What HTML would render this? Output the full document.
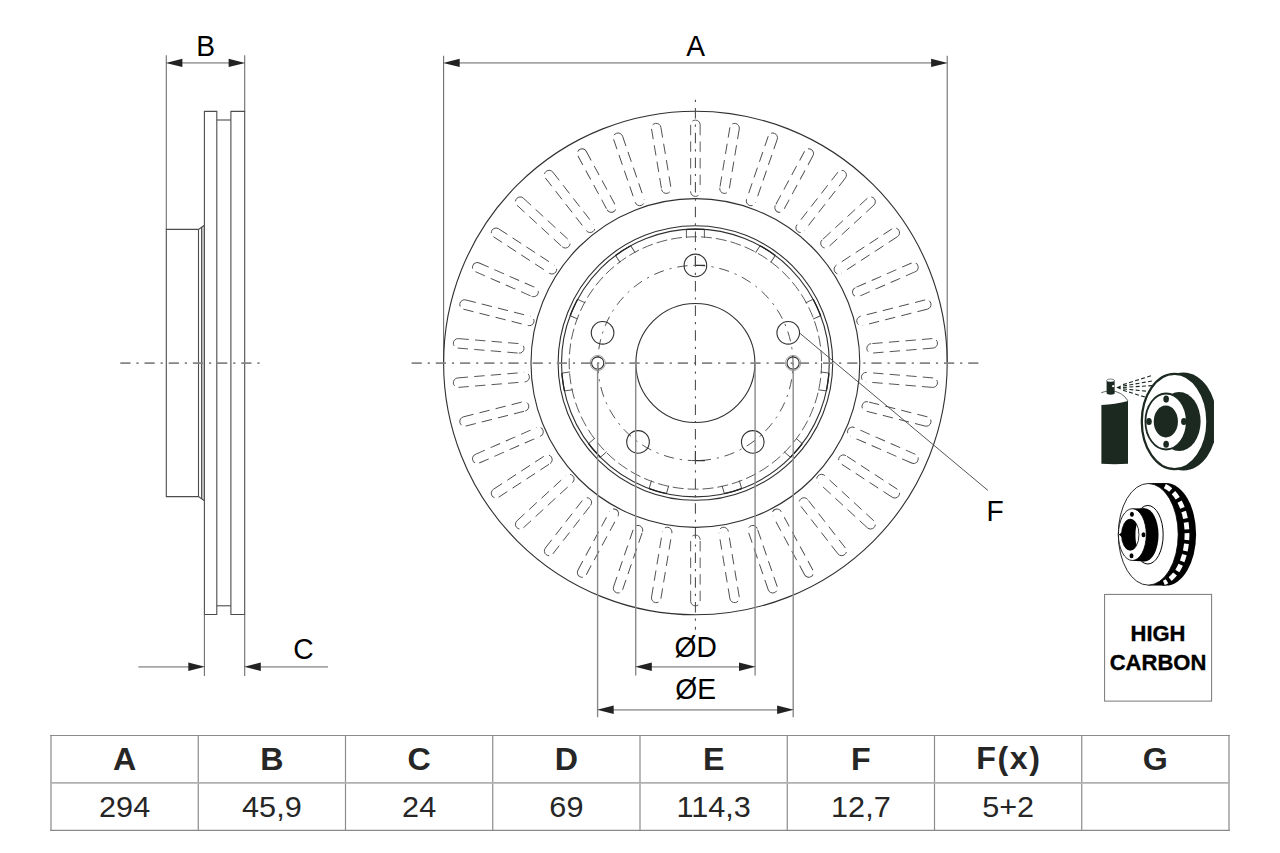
<!DOCTYPE html>
<html><head><meta charset="utf-8"><title>Brake disc</title>
<style>
html,body{margin:0;padding:0;background:#fff;}
body{width:1280px;height:853px;overflow:hidden;position:relative;font-family:"Liberation Sans",sans-serif;}
svg{position:absolute;left:0;top:0;}
svg text{font-family:"Liberation Sans",sans-serif;}
table{position:absolute;left:50px;top:735px;width:1179px;height:96px;border-collapse:collapse;table-layout:fixed;}
td{border:1px solid #7a7a7a;text-align:center;padding:0;font-size:30px;color:#2a2a2a;height:46.5px;line-height:46px;}
tr.h td{font-weight:bold;}
.hc{position:absolute;left:1104px;top:594px;width:106px;height:106px;border:1px solid #777;}
.hc div{position:absolute;left:0;width:106px;text-align:center;font-weight:bold;font-size:22px;color:#111;line-height:28px;}
</style></head><body>
<svg width="1280" height="853" viewBox="0 0 1280 853">
<line x1="166.30" y1="55.30" x2="166.30" y2="229.40" stroke="#6e6e6e" stroke-width="1.1" />
<line x1="244.70" y1="55.30" x2="244.70" y2="111.40" stroke="#6e6e6e" stroke-width="1.1" />
<line x1="176.30" y1="62.90" x2="234.70" y2="62.90" stroke="#a6a6a6" stroke-width="1.7" />
<polygon points="165.80,62.90 182.40,58.70 182.40,67.10" fill="#222"/>
<polygon points="245.20,62.90 228.60,58.70 228.60,67.10" fill="#222"/>
<text transform="translate(205.60,55.90) scale(0.94,1)" font-size="30" text-anchor="middle" font-weight="normal" fill="#000" >B</text>
<rect x="201.6" y="226.40" width="2.8" height="273.20" fill="#cfcfcf"/>
<path d="M204.4,225.3 L198.5,229.4 L166.3,229.4 L166.3,496.6 L198.5,496.6 L204.4,500.70000000000005" fill="none" stroke="#4c4c4c" stroke-width="1.1"/>
<line x1="198.50" y1="229.40" x2="198.50" y2="496.60" stroke="#4c4c4c" stroke-width="1.1" />
<line x1="201.60" y1="226.90" x2="201.60" y2="499.10" stroke="#4c4c4c" stroke-width="1.1" />
<path d="M204.4,614.5 L204.4,111.4 L216.8,111.4 L216.8,614.5 Z" fill="none" stroke="#4c4c4c" stroke-width="1.1"/>
<path d="M230.9,614.5 L230.9,111.4 L244.7,111.4 L244.7,614.5 Z" fill="none" stroke="#4c4c4c" stroke-width="1.1"/>
<line x1="216.80" y1="120.00" x2="230.90" y2="120.00" stroke="#4c4c4c" stroke-width="1.1" />
<line x1="216.80" y1="605.80" x2="230.90" y2="605.80" stroke="#4c4c4c" stroke-width="1.1" />
<line x1="204.40" y1="614.50" x2="204.40" y2="676.00" stroke="#6e6e6e" stroke-width="1.1" />
<line x1="244.70" y1="614.50" x2="244.70" y2="676.00" stroke="#6e6e6e" stroke-width="1.1" />
<line x1="138.40" y1="666.80" x2="194.40" y2="666.80" stroke="#a6a6a6" stroke-width="1.7" />
<line x1="254.70" y1="666.80" x2="328.00" y2="666.80" stroke="#a6a6a6" stroke-width="1.7" />
<polygon points="204.90,666.80 188.30,662.60 188.30,671.00" fill="#222"/>
<polygon points="244.20,666.80 260.80,662.60 260.80,671.00" fill="#222"/>
<text transform="translate(303.40,659.00) scale(0.94,1)" font-size="30" text-anchor="middle" font-weight="normal" fill="#000" >C</text>
<line x1="120.30" y1="363.10" x2="260.00" y2="363.10" stroke="#858585" stroke-width="1.6" stroke-dasharray="10.2 5.9 2.2 5.9"/>
<line x1="443.60" y1="55.80" x2="443.60" y2="363.00" stroke="#6e6e6e" stroke-width="1.1" />
<line x1="947.20" y1="55.80" x2="947.20" y2="363.00" stroke="#6e6e6e" stroke-width="1.1" />
<line x1="453.60" y1="62.90" x2="937.20" y2="62.90" stroke="#a6a6a6" stroke-width="1.7" />
<polygon points="443.10,62.90 459.70,58.70 459.70,67.10" fill="#222"/>
<polygon points="947.70,62.90 931.10,58.70 931.10,67.10" fill="#222"/>
<text transform="translate(695.60,55.70) scale(0.94,1)" font-size="30" text-anchor="middle" font-weight="normal" fill="#000" >A</text>
<circle cx="695.40" cy="363.00" r="251.80" fill="none" stroke="#303030" stroke-width="1.1" />
<circle cx="695.40" cy="363.00" r="164.40" fill="none" stroke="#303030" stroke-width="1.1" />
<circle cx="695.40" cy="363.00" r="137.30" fill="none" stroke="#303030" stroke-width="1.1" />
<circle cx="695.40" cy="363.00" r="133.90" fill="none" stroke="#303030" stroke-width="1.1" />
<circle cx="695.40" cy="363.00" r="126.20" fill="none" stroke="#4a4a4a" stroke-width="0.9" stroke-dasharray="11 4"/>
<path d="M695.4,265.4 A97.6,97.6 0 0 1 695.4,460.6" fill="none" stroke="#4a4a4a" stroke-width="0.95" stroke-dasharray="10.2 5.9 2.2 5.9"/>
<path d="M695.4,265.4 A97.6,97.6 0 0 0 695.4,460.6" fill="none" stroke="#4a4a4a" stroke-width="0.95" stroke-dasharray="10.2 5.9 2.2 5.9" stroke-dashoffset="-8"/>
<path d="M695.4,255.89999999999998 L695.4,265.4 L704.9,265.4" fill="none" stroke="#333" stroke-width="1.1"/>
<path d="M695.4,451.1 L695.4,460.6 L704.9,460.6" fill="none" stroke="#333" stroke-width="1.1"/>
<circle cx="695.40" cy="363.00" r="59.50" fill="none" stroke="#303030" stroke-width="1.1" />
<circle cx="695.40" cy="265.40" r="11.30" fill="none" stroke="#303030" stroke-width="1.1" />
<circle cx="788.22" cy="332.84" r="11.30" fill="none" stroke="#303030" stroke-width="1.1" />
<circle cx="752.77" cy="441.96" r="11.30" fill="none" stroke="#303030" stroke-width="1.1" />
<circle cx="638.03" cy="441.96" r="11.30" fill="none" stroke="#303030" stroke-width="1.1" />
<circle cx="602.58" cy="332.84" r="11.30" fill="none" stroke="#303030" stroke-width="1.1" />
<circle cx="597.70" cy="363.00" r="6.10" fill="none" stroke="#303030" stroke-width="1.1" />
<circle cx="597.70" cy="363.00" r="7.60" fill="none" stroke="#888" stroke-width="0.8" />
<circle cx="793.10" cy="363.00" r="6.10" fill="none" stroke="#303030" stroke-width="1.1" />
<circle cx="793.10" cy="363.00" r="7.60" fill="none" stroke="#888" stroke-width="0.8" />
<path d="M700.15,124.85 A4.75,4.75 0 0 0 690.65,124.85 M690.65,191.65 A4.75,4.75 0 0 0 700.15,191.65 M690.65,124.85 L690.65,191.65 M700.15,124.85 L700.15,191.65" transform="rotate(0.0000 695.4 363.0)" fill="none" stroke="#4a4a4a" stroke-width="0.9" stroke-dasharray="10.4 6.2"/>
<path d="M700.15,124.85 A4.75,4.75 0 0 0 690.65,124.85 M690.65,186.25 A4.75,4.75 0 0 0 700.15,186.25 M690.65,124.85 L690.65,186.25 M700.15,124.85 L700.15,186.25" transform="rotate(9.4737 695.4 363.0)" fill="none" stroke="#4a4a4a" stroke-width="0.9" stroke-dasharray="10.4 6.2"/>
<path d="M700.15,124.85 A4.75,4.75 0 0 0 690.65,124.85 M690.65,191.65 A4.75,4.75 0 0 0 700.15,191.65 M690.65,124.85 L690.65,191.65 M700.15,124.85 L700.15,191.65" transform="rotate(18.9474 695.4 363.0)" fill="none" stroke="#4a4a4a" stroke-width="0.9" stroke-dasharray="10.4 6.2"/>
<path d="M700.15,124.85 A4.75,4.75 0 0 0 690.65,124.85 M690.65,186.25 A4.75,4.75 0 0 0 700.15,186.25 M690.65,124.85 L690.65,186.25 M700.15,124.85 L700.15,186.25" transform="rotate(28.4211 695.4 363.0)" fill="none" stroke="#4a4a4a" stroke-width="0.9" stroke-dasharray="10.4 6.2"/>
<path d="M700.15,124.85 A4.75,4.75 0 0 0 690.65,124.85 M690.65,191.65 A4.75,4.75 0 0 0 700.15,191.65 M690.65,124.85 L690.65,191.65 M700.15,124.85 L700.15,191.65" transform="rotate(37.8947 695.4 363.0)" fill="none" stroke="#4a4a4a" stroke-width="0.9" stroke-dasharray="10.4 6.2"/>
<path d="M700.15,124.85 A4.75,4.75 0 0 0 690.65,124.85 M690.65,186.25 A4.75,4.75 0 0 0 700.15,186.25 M690.65,124.85 L690.65,186.25 M700.15,124.85 L700.15,186.25" transform="rotate(47.3684 695.4 363.0)" fill="none" stroke="#4a4a4a" stroke-width="0.9" stroke-dasharray="10.4 6.2"/>
<path d="M700.15,124.85 A4.75,4.75 0 0 0 690.65,124.85 M690.65,191.65 A4.75,4.75 0 0 0 700.15,191.65 M690.65,124.85 L690.65,191.65 M700.15,124.85 L700.15,191.65" transform="rotate(56.8421 695.4 363.0)" fill="none" stroke="#4a4a4a" stroke-width="0.9" stroke-dasharray="10.4 6.2"/>
<path d="M700.15,124.85 A4.75,4.75 0 0 0 690.65,124.85 M690.65,186.25 A4.75,4.75 0 0 0 700.15,186.25 M690.65,124.85 L690.65,186.25 M700.15,124.85 L700.15,186.25" transform="rotate(66.3158 695.4 363.0)" fill="none" stroke="#4a4a4a" stroke-width="0.9" stroke-dasharray="10.4 6.2"/>
<path d="M700.15,124.85 A4.75,4.75 0 0 0 690.65,124.85 M690.65,191.65 A4.75,4.75 0 0 0 700.15,191.65 M690.65,124.85 L690.65,191.65 M700.15,124.85 L700.15,191.65" transform="rotate(75.7895 695.4 363.0)" fill="none" stroke="#4a4a4a" stroke-width="0.9" stroke-dasharray="10.4 6.2"/>
<path d="M700.15,124.85 A4.75,4.75 0 0 0 690.65,124.85 M690.65,186.25 A4.75,4.75 0 0 0 700.15,186.25 M690.65,124.85 L690.65,186.25 M700.15,124.85 L700.15,186.25" transform="rotate(85.2632 695.4 363.0)" fill="none" stroke="#4a4a4a" stroke-width="0.9" stroke-dasharray="10.4 6.2"/>
<path d="M700.15,124.85 A4.75,4.75 0 0 0 690.65,124.85 M690.65,191.65 A4.75,4.75 0 0 0 700.15,191.65 M690.65,124.85 L690.65,191.65 M700.15,124.85 L700.15,191.65" transform="rotate(94.7368 695.4 363.0)" fill="none" stroke="#4a4a4a" stroke-width="0.9" stroke-dasharray="10.4 6.2"/>
<path d="M700.15,124.85 A4.75,4.75 0 0 0 690.65,124.85 M690.65,186.25 A4.75,4.75 0 0 0 700.15,186.25 M690.65,124.85 L690.65,186.25 M700.15,124.85 L700.15,186.25" transform="rotate(104.2105 695.4 363.0)" fill="none" stroke="#4a4a4a" stroke-width="0.9" stroke-dasharray="10.4 6.2"/>
<path d="M700.15,124.85 A4.75,4.75 0 0 0 690.65,124.85 M690.65,191.65 A4.75,4.75 0 0 0 700.15,191.65 M690.65,124.85 L690.65,191.65 M700.15,124.85 L700.15,191.65" transform="rotate(113.6842 695.4 363.0)" fill="none" stroke="#4a4a4a" stroke-width="0.9" stroke-dasharray="10.4 6.2"/>
<path d="M700.15,124.85 A4.75,4.75 0 0 0 690.65,124.85 M690.65,186.25 A4.75,4.75 0 0 0 700.15,186.25 M690.65,124.85 L690.65,186.25 M700.15,124.85 L700.15,186.25" transform="rotate(123.1579 695.4 363.0)" fill="none" stroke="#4a4a4a" stroke-width="0.9" stroke-dasharray="10.4 6.2"/>
<path d="M700.15,124.85 A4.75,4.75 0 0 0 690.65,124.85 M690.65,191.65 A4.75,4.75 0 0 0 700.15,191.65 M690.65,124.85 L690.65,191.65 M700.15,124.85 L700.15,191.65" transform="rotate(132.6316 695.4 363.0)" fill="none" stroke="#4a4a4a" stroke-width="0.9" stroke-dasharray="10.4 6.2"/>
<path d="M700.15,124.85 A4.75,4.75 0 0 0 690.65,124.85 M690.65,186.25 A4.75,4.75 0 0 0 700.15,186.25 M690.65,124.85 L690.65,186.25 M700.15,124.85 L700.15,186.25" transform="rotate(142.1053 695.4 363.0)" fill="none" stroke="#4a4a4a" stroke-width="0.9" stroke-dasharray="10.4 6.2"/>
<path d="M700.15,124.85 A4.75,4.75 0 0 0 690.65,124.85 M690.65,191.65 A4.75,4.75 0 0 0 700.15,191.65 M690.65,124.85 L690.65,191.65 M700.15,124.85 L700.15,191.65" transform="rotate(151.5789 695.4 363.0)" fill="none" stroke="#4a4a4a" stroke-width="0.9" stroke-dasharray="10.4 6.2"/>
<path d="M700.15,124.85 A4.75,4.75 0 0 0 690.65,124.85 M690.65,186.25 A4.75,4.75 0 0 0 700.15,186.25 M690.65,124.85 L690.65,186.25 M700.15,124.85 L700.15,186.25" transform="rotate(161.0526 695.4 363.0)" fill="none" stroke="#4a4a4a" stroke-width="0.9" stroke-dasharray="10.4 6.2"/>
<path d="M700.15,124.85 A4.75,4.75 0 0 0 690.65,124.85 M690.65,191.65 A4.75,4.75 0 0 0 700.15,191.65 M690.65,124.85 L690.65,191.65 M700.15,124.85 L700.15,191.65" transform="rotate(170.5263 695.4 363.0)" fill="none" stroke="#4a4a4a" stroke-width="0.9" stroke-dasharray="10.4 6.2"/>
<path d="M700.15,124.85 A4.75,4.75 0 0 0 690.65,124.85 M690.65,186.25 A4.75,4.75 0 0 0 700.15,186.25 M690.65,124.85 L690.65,186.25 M700.15,124.85 L700.15,186.25" transform="rotate(180.0000 695.4 363.0)" fill="none" stroke="#4a4a4a" stroke-width="0.9" stroke-dasharray="10.4 6.2"/>
<path d="M700.15,124.85 A4.75,4.75 0 0 0 690.65,124.85 M690.65,191.65 A4.75,4.75 0 0 0 700.15,191.65 M690.65,124.85 L690.65,191.65 M700.15,124.85 L700.15,191.65" transform="rotate(189.4737 695.4 363.0)" fill="none" stroke="#4a4a4a" stroke-width="0.9" stroke-dasharray="10.4 6.2"/>
<path d="M700.15,124.85 A4.75,4.75 0 0 0 690.65,124.85 M690.65,186.25 A4.75,4.75 0 0 0 700.15,186.25 M690.65,124.85 L690.65,186.25 M700.15,124.85 L700.15,186.25" transform="rotate(198.9474 695.4 363.0)" fill="none" stroke="#4a4a4a" stroke-width="0.9" stroke-dasharray="10.4 6.2"/>
<path d="M700.15,124.85 A4.75,4.75 0 0 0 690.65,124.85 M690.65,191.65 A4.75,4.75 0 0 0 700.15,191.65 M690.65,124.85 L690.65,191.65 M700.15,124.85 L700.15,191.65" transform="rotate(208.4211 695.4 363.0)" fill="none" stroke="#4a4a4a" stroke-width="0.9" stroke-dasharray="10.4 6.2"/>
<path d="M700.15,124.85 A4.75,4.75 0 0 0 690.65,124.85 M690.65,186.25 A4.75,4.75 0 0 0 700.15,186.25 M690.65,124.85 L690.65,186.25 M700.15,124.85 L700.15,186.25" transform="rotate(217.8947 695.4 363.0)" fill="none" stroke="#4a4a4a" stroke-width="0.9" stroke-dasharray="10.4 6.2"/>
<path d="M700.15,124.85 A4.75,4.75 0 0 0 690.65,124.85 M690.65,191.65 A4.75,4.75 0 0 0 700.15,191.65 M690.65,124.85 L690.65,191.65 M700.15,124.85 L700.15,191.65" transform="rotate(227.3684 695.4 363.0)" fill="none" stroke="#4a4a4a" stroke-width="0.9" stroke-dasharray="10.4 6.2"/>
<path d="M700.15,124.85 A4.75,4.75 0 0 0 690.65,124.85 M690.65,186.25 A4.75,4.75 0 0 0 700.15,186.25 M690.65,124.85 L690.65,186.25 M700.15,124.85 L700.15,186.25" transform="rotate(236.8421 695.4 363.0)" fill="none" stroke="#4a4a4a" stroke-width="0.9" stroke-dasharray="10.4 6.2"/>
<path d="M700.15,124.85 A4.75,4.75 0 0 0 690.65,124.85 M690.65,191.65 A4.75,4.75 0 0 0 700.15,191.65 M690.65,124.85 L690.65,191.65 M700.15,124.85 L700.15,191.65" transform="rotate(246.3158 695.4 363.0)" fill="none" stroke="#4a4a4a" stroke-width="0.9" stroke-dasharray="10.4 6.2"/>
<path d="M700.15,124.85 A4.75,4.75 0 0 0 690.65,124.85 M690.65,186.25 A4.75,4.75 0 0 0 700.15,186.25 M690.65,124.85 L690.65,186.25 M700.15,124.85 L700.15,186.25" transform="rotate(255.7895 695.4 363.0)" fill="none" stroke="#4a4a4a" stroke-width="0.9" stroke-dasharray="10.4 6.2"/>
<path d="M700.15,124.85 A4.75,4.75 0 0 0 690.65,124.85 M690.65,191.65 A4.75,4.75 0 0 0 700.15,191.65 M690.65,124.85 L690.65,191.65 M700.15,124.85 L700.15,191.65" transform="rotate(265.2632 695.4 363.0)" fill="none" stroke="#4a4a4a" stroke-width="0.9" stroke-dasharray="10.4 6.2"/>
<path d="M700.15,124.85 A4.75,4.75 0 0 0 690.65,124.85 M690.65,186.25 A4.75,4.75 0 0 0 700.15,186.25 M690.65,124.85 L690.65,186.25 M700.15,124.85 L700.15,186.25" transform="rotate(274.7368 695.4 363.0)" fill="none" stroke="#4a4a4a" stroke-width="0.9" stroke-dasharray="10.4 6.2"/>
<path d="M700.15,124.85 A4.75,4.75 0 0 0 690.65,124.85 M690.65,191.65 A4.75,4.75 0 0 0 700.15,191.65 M690.65,124.85 L690.65,191.65 M700.15,124.85 L700.15,191.65" transform="rotate(284.2105 695.4 363.0)" fill="none" stroke="#4a4a4a" stroke-width="0.9" stroke-dasharray="10.4 6.2"/>
<path d="M700.15,124.85 A4.75,4.75 0 0 0 690.65,124.85 M690.65,186.25 A4.75,4.75 0 0 0 700.15,186.25 M690.65,124.85 L690.65,186.25 M700.15,124.85 L700.15,186.25" transform="rotate(293.6842 695.4 363.0)" fill="none" stroke="#4a4a4a" stroke-width="0.9" stroke-dasharray="10.4 6.2"/>
<path d="M700.15,124.85 A4.75,4.75 0 0 0 690.65,124.85 M690.65,191.65 A4.75,4.75 0 0 0 700.15,191.65 M690.65,124.85 L690.65,191.65 M700.15,124.85 L700.15,191.65" transform="rotate(303.1579 695.4 363.0)" fill="none" stroke="#4a4a4a" stroke-width="0.9" stroke-dasharray="10.4 6.2"/>
<path d="M700.15,124.85 A4.75,4.75 0 0 0 690.65,124.85 M690.65,186.25 A4.75,4.75 0 0 0 700.15,186.25 M690.65,124.85 L690.65,186.25 M700.15,124.85 L700.15,186.25" transform="rotate(312.6316 695.4 363.0)" fill="none" stroke="#4a4a4a" stroke-width="0.9" stroke-dasharray="10.4 6.2"/>
<path d="M700.15,124.85 A4.75,4.75 0 0 0 690.65,124.85 M690.65,191.65 A4.75,4.75 0 0 0 700.15,191.65 M690.65,124.85 L690.65,191.65 M700.15,124.85 L700.15,191.65" transform="rotate(322.1053 695.4 363.0)" fill="none" stroke="#4a4a4a" stroke-width="0.9" stroke-dasharray="10.4 6.2"/>
<path d="M700.15,124.85 A4.75,4.75 0 0 0 690.65,124.85 M690.65,186.25 A4.75,4.75 0 0 0 700.15,186.25 M690.65,124.85 L690.65,186.25 M700.15,124.85 L700.15,186.25" transform="rotate(331.5789 695.4 363.0)" fill="none" stroke="#4a4a4a" stroke-width="0.9" stroke-dasharray="10.4 6.2"/>
<path d="M700.15,124.85 A4.75,4.75 0 0 0 690.65,124.85 M690.65,191.65 A4.75,4.75 0 0 0 700.15,191.65 M690.65,124.85 L690.65,191.65 M700.15,124.85 L700.15,191.65" transform="rotate(341.0526 695.4 363.0)" fill="none" stroke="#4a4a4a" stroke-width="0.9" stroke-dasharray="10.4 6.2"/>
<path d="M700.15,124.85 A4.75,4.75 0 0 0 690.65,124.85 M690.65,186.25 A4.75,4.75 0 0 0 700.15,186.25 M690.65,124.85 L690.65,186.25 M700.15,124.85 L700.15,186.25" transform="rotate(350.5263 695.4 363.0)" fill="none" stroke="#4a4a4a" stroke-width="0.9" stroke-dasharray="10.4 6.2"/>
<path d="M686.4,229.6 L686.4,237.8 M704.4,229.6 L704.4,237.8" transform="rotate(-0.0000 695.4 363.0)" fill="none" stroke="#4a4a4a" stroke-width="0.9"/>
<path d="M686.40,229.40 A133.9,133.9 0 0 1 704.40,229.40" transform="rotate(-0.0000 695.4 363.0)" fill="none" stroke="#222" stroke-width="1.3"/>
<path d="M686.4,229.6 L686.4,237.8 M704.4,229.6 L704.4,237.8" transform="rotate(-32.7273 695.4 363.0)" fill="none" stroke="#4a4a4a" stroke-width="0.9"/>
<path d="M686.40,229.40 A133.9,133.9 0 0 1 704.40,229.40" transform="rotate(-32.7273 695.4 363.0)" fill="none" stroke="#222" stroke-width="1.3"/>
<path d="M686.4,229.6 L686.4,237.8 M704.4,229.6 L704.4,237.8" transform="rotate(-65.4545 695.4 363.0)" fill="none" stroke="#4a4a4a" stroke-width="0.9"/>
<path d="M686.40,229.40 A133.9,133.9 0 0 1 704.40,229.40" transform="rotate(-65.4545 695.4 363.0)" fill="none" stroke="#222" stroke-width="1.3"/>
<path d="M686.4,229.6 L686.4,237.8 M704.4,229.6 L704.4,237.8" transform="rotate(-98.1818 695.4 363.0)" fill="none" stroke="#4a4a4a" stroke-width="0.9"/>
<path d="M686.40,229.40 A133.9,133.9 0 0 1 704.40,229.40" transform="rotate(-98.1818 695.4 363.0)" fill="none" stroke="#222" stroke-width="1.3"/>
<path d="M686.4,229.6 L686.4,237.8 M704.4,229.6 L704.4,237.8" transform="rotate(-130.9091 695.4 363.0)" fill="none" stroke="#4a4a4a" stroke-width="0.9"/>
<path d="M686.40,229.40 A133.9,133.9 0 0 1 704.40,229.40" transform="rotate(-130.9091 695.4 363.0)" fill="none" stroke="#222" stroke-width="1.3"/>
<path d="M686.4,229.6 L686.4,237.8 M704.4,229.6 L704.4,237.8" transform="rotate(-163.6364 695.4 363.0)" fill="none" stroke="#4a4a4a" stroke-width="0.9"/>
<path d="M686.40,229.40 A133.9,133.9 0 0 1 704.40,229.40" transform="rotate(-163.6364 695.4 363.0)" fill="none" stroke="#222" stroke-width="1.3"/>
<path d="M686.4,229.6 L686.4,237.8 M704.4,229.6 L704.4,237.8" transform="rotate(-196.3636 695.4 363.0)" fill="none" stroke="#4a4a4a" stroke-width="0.9"/>
<path d="M686.40,229.40 A133.9,133.9 0 0 1 704.40,229.40" transform="rotate(-196.3636 695.4 363.0)" fill="none" stroke="#222" stroke-width="1.3"/>
<path d="M686.4,229.6 L686.4,237.8 M704.4,229.6 L704.4,237.8" transform="rotate(-229.0909 695.4 363.0)" fill="none" stroke="#4a4a4a" stroke-width="0.9"/>
<path d="M686.40,229.40 A133.9,133.9 0 0 1 704.40,229.40" transform="rotate(-229.0909 695.4 363.0)" fill="none" stroke="#222" stroke-width="1.3"/>
<path d="M686.4,229.6 L686.4,237.8 M704.4,229.6 L704.4,237.8" transform="rotate(-261.8182 695.4 363.0)" fill="none" stroke="#4a4a4a" stroke-width="0.9"/>
<path d="M686.40,229.40 A133.9,133.9 0 0 1 704.40,229.40" transform="rotate(-261.8182 695.4 363.0)" fill="none" stroke="#222" stroke-width="1.3"/>
<path d="M686.4,229.6 L686.4,237.8 M704.4,229.6 L704.4,237.8" transform="rotate(-294.5455 695.4 363.0)" fill="none" stroke="#4a4a4a" stroke-width="0.9"/>
<path d="M686.40,229.40 A133.9,133.9 0 0 1 704.40,229.40" transform="rotate(-294.5455 695.4 363.0)" fill="none" stroke="#222" stroke-width="1.3"/>
<path d="M686.4,229.6 L686.4,237.8 M704.4,229.6 L704.4,237.8" transform="rotate(-327.2727 695.4 363.0)" fill="none" stroke="#4a4a4a" stroke-width="0.9"/>
<path d="M686.40,229.40 A133.9,133.9 0 0 1 704.40,229.40" transform="rotate(-327.2727 695.4 363.0)" fill="none" stroke="#222" stroke-width="1.3"/>
<line x1="411.60" y1="363.10" x2="980.00" y2="363.10" stroke="#858585" stroke-width="1.6" stroke-dasharray="10.2 5.9 2.2 5.9"/>
<line x1="695.40" y1="94.00" x2="695.40" y2="629.70" stroke="#484848" stroke-width="1.05" stroke-dasharray="10.5 6 2.2 6" stroke-dashoffset="10.7"/>
<line x1="635.70" y1="363.00" x2="635.70" y2="675.60" stroke="#8a8a8a" stroke-width="1.4" />
<line x1="597.60" y1="363.00" x2="597.60" y2="717.30" stroke="#8a8a8a" stroke-width="1.4" />
<line x1="755.10" y1="363.00" x2="755.10" y2="675.60" stroke="#8a8a8a" stroke-width="1.4" />
<line x1="793.20" y1="363.00" x2="793.20" y2="717.30" stroke="#8a8a8a" stroke-width="1.4" />
<line x1="645.70" y1="666.80" x2="745.10" y2="666.80" stroke="#a6a6a6" stroke-width="1.7" />
<polygon points="635.20,666.80 651.80,662.60 651.80,671.00" fill="#222"/>
<polygon points="755.60,666.80 739.00,662.60 739.00,671.00" fill="#222"/>
<line x1="607.60" y1="709.80" x2="783.20" y2="709.80" stroke="#a6a6a6" stroke-width="1.7" />
<polygon points="597.10,709.80 613.70,705.60 613.70,714.00" fill="#222"/>
<polygon points="793.70,709.80 777.10,705.60 777.10,714.00" fill="#222"/>
<text transform="translate(695.60,656.90) scale(0.94,1)" font-size="30" text-anchor="middle" font-weight="normal" fill="#000" >ØD</text>
<text transform="translate(695.70,699.40) scale(0.94,1)" font-size="30" text-anchor="middle" font-weight="normal" fill="#000" >ØE</text>
<line x1="799.80" y1="333.20" x2="987.90" y2="490.40" stroke="#555" stroke-width="1" />
<text transform="translate(995.10,521.00) scale(0.94,1)" font-size="30" text-anchor="middle" font-weight="normal" fill="#000" >F</text>
<line x1="51.00" y1="735.00" x2="51.00" y2="830.90" stroke="#b0b0b0" stroke-width="1.8" />
<line x1="198.25" y1="735.00" x2="198.25" y2="830.90" stroke="#8c8c8c" stroke-width="1.2" />
<line x1="345.50" y1="735.00" x2="345.50" y2="830.90" stroke="#8c8c8c" stroke-width="1.2" />
<line x1="492.75" y1="735.00" x2="492.75" y2="830.90" stroke="#8c8c8c" stroke-width="1.2" />
<line x1="640.00" y1="735.00" x2="640.00" y2="830.90" stroke="#8c8c8c" stroke-width="1.2" />
<line x1="787.25" y1="735.00" x2="787.25" y2="830.90" stroke="#8c8c8c" stroke-width="1.2" />
<line x1="934.50" y1="735.00" x2="934.50" y2="830.90" stroke="#8c8c8c" stroke-width="1.2" />
<line x1="1081.75" y1="735.00" x2="1081.75" y2="830.90" stroke="#8c8c8c" stroke-width="1.2" />
<line x1="1229.00" y1="735.00" x2="1229.00" y2="830.90" stroke="#b0b0b0" stroke-width="1.8" />
<line x1="50.10" y1="735.45" x2="1229.90" y2="735.45" stroke="#8a8a8a" stroke-width="1.1" />
<line x1="50.10" y1="830.40" x2="1229.90" y2="830.40" stroke="#8a8a8a" stroke-width="1.1" />
<line x1="50.10" y1="782.90" x2="1229.90" y2="782.90" stroke="#b0b0b0" stroke-width="1.9" />
<text transform="translate(124.62,770.20) scale(1,1)" font-size="32.2" text-anchor="middle" font-weight="bold" fill="#262626" >A</text>
<text transform="translate(124.62,817.00) scale(1.06,1)" font-size="28.9" text-anchor="middle" font-weight="normal" fill="#262626" >294</text>
<text transform="translate(271.88,770.20) scale(1,1)" font-size="32.2" text-anchor="middle" font-weight="bold" fill="#262626" >B</text>
<text transform="translate(271.88,817.00) scale(1.06,1)" font-size="28.9" text-anchor="middle" font-weight="normal" fill="#262626" >45,9</text>
<text transform="translate(419.12,770.20) scale(1,1)" font-size="32.2" text-anchor="middle" font-weight="bold" fill="#262626" >C</text>
<text transform="translate(419.12,817.00) scale(1.06,1)" font-size="28.9" text-anchor="middle" font-weight="normal" fill="#262626" >24</text>
<text transform="translate(566.38,770.20) scale(1,1)" font-size="32.2" text-anchor="middle" font-weight="bold" fill="#262626" >D</text>
<text transform="translate(566.38,817.00) scale(1.06,1)" font-size="28.9" text-anchor="middle" font-weight="normal" fill="#262626" >69</text>
<text transform="translate(713.62,770.20) scale(1,1)" font-size="32.2" text-anchor="middle" font-weight="bold" fill="#262626" >E</text>
<text transform="translate(713.62,817.00) scale(1.06,1)" font-size="28.9" text-anchor="middle" font-weight="normal" fill="#262626" >114,3</text>
<text transform="translate(860.88,770.20) scale(1,1)" font-size="32.2" text-anchor="middle" font-weight="bold" fill="#262626" >F</text>
<text transform="translate(860.88,817.00) scale(1.06,1)" font-size="28.9" text-anchor="middle" font-weight="normal" fill="#262626" >12,7</text>
<text transform="translate(1008.92,769.20) scale(1,1)" font-size="32.2" text-anchor="middle" font-weight="bold" fill="#262626" letter-spacing="1.6">F(x)</text>
<text transform="translate(1008.12,817.00) scale(1.06,1)" font-size="28.9" text-anchor="middle" font-weight="normal" fill="#262626" >5+2</text>
<text transform="translate(1155.38,770.20) scale(1,1)" font-size="32.2" text-anchor="middle" font-weight="bold" fill="#262626" >G</text>
<rect x="1104.6" y="594.4" width="107" height="106.7" fill="none" stroke="#777" stroke-width="1"/>
<text transform="translate(1158.00,641.40) scale(1,1)" font-size="22" text-anchor="middle" font-weight="bold" fill="#000" stroke="#000" stroke-width="0.35">HIGH</text>
<text transform="translate(1158.00,669.90) scale(1,1)" font-size="22" text-anchor="middle" font-weight="bold" fill="#000" stroke="#000" stroke-width="0.35">CARBON</text>

<g transform="translate(1080,360) scale(0.14073)" fill="#1b2921" stroke="none">
  <!-- can -->
  <path d="M152,320 Q250,318 341,292 L341,738 Q245,744 152,738 Z"/>
  <path d="M151,232 Q185,220 216,219 Q300,222 341,291" fill="none" stroke="#1b2921" stroke-width="5"/>
  <rect x="189" y="146" width="57" height="90"/>
  <ellipse cx="218" cy="237" rx="28" ry="10"/>
  <ellipse cx="217" cy="146" rx="27" ry="11" fill="#fff" stroke="#1b2921" stroke-width="4"/>
  <circle cx="236" cy="186" r="8" fill="#fff"/>
  <!-- spray -->
  <polygon points="258,195 289,182 289,209"/>
  <g stroke="#1b2921" stroke-width="8" fill="none">
    <line x1="306" y1="175" x2="512" y2="110" stroke-dasharray="28 17"/>
    <line x1="306" y1="185" x2="518" y2="148" stroke-dasharray="28 17"/>
    <line x1="306" y1="195" x2="512" y2="182" stroke-dasharray="28 17"/>
    <line x1="306" y1="205" x2="495" y2="224" stroke-dasharray="28 17"/>
    <line x1="306" y1="215" x2="470" y2="266" stroke-dasharray="28 17"/>
  </g>
  <!-- disc back -->
  <clipPath id="cl1"><rect x="400" y="60" width="552" height="760"/></clipPath>
  <ellipse cx="735" cy="437" rx="240" ry="348" clip-path="url(#cl1)"/>
  <ellipse cx="672" cy="437" rx="233" ry="339" fill="#fff" stroke="#1b2921" stroke-width="16"/>
  <!-- hat -->
  <ellipse cx="705" cy="437" rx="152" ry="210"/>
  <ellipse cx="612" cy="437" rx="147" ry="199" fill="#fff" stroke="#1b2921" stroke-width="13"/>
  <ellipse cx="610" cy="437" rx="86" ry="113"/>
  <ellipse cx="612" cy="278" rx="20" ry="25"/>
  <ellipse cx="612" cy="598" rx="20" ry="25"/>
  <ellipse cx="490" cy="437" rx="20" ry="25"/>
  <ellipse cx="738" cy="437" rx="20" ry="25"/>
</g>


<g transform="translate(1080,470) scale(0.14073)" fill="#000" stroke="none">
  <ellipse cx="610" cy="457" rx="215" ry="364"/>
  <rect x="485" y="93" width="125" height="40"/>
  <rect x="485" y="781" width="125" height="40"/>
  <path d="M596,112 A215,355 0 0 1 596,802" fill="none" stroke="#fff" stroke-width="34" stroke-dasharray="50 27" stroke-dashoffset="-8"/>
  <ellipse cx="485" cy="457" rx="213" ry="361" fill="#fff" stroke="#000" stroke-width="6"/>
  <!-- hat outer ring -->
  <ellipse cx="482" cy="460" rx="109" ry="208" fill="#fff" stroke="#000" stroke-width="7"/>
  <ellipse cx="458" cy="461" rx="100" ry="190"/>
  <path d="M372,273 L458,271 L458,651 L372,645 Z"/>
  <ellipse cx="372" cy="459" rx="99" ry="184" fill="#fff" stroke="#000" stroke-width="6"/>
  <clipPath id="cl2"><ellipse cx="357" cy="460" rx="62" ry="111"/></clipPath>
  <ellipse cx="357" cy="460" rx="62" ry="111"/>
  <ellipse cx="409" cy="462" rx="15" ry="80" fill="#fff" clip-path="url(#cl2)"/>
  <ellipse cx="357" cy="460" rx="62" ry="111" fill="none" stroke="#000" stroke-width="5"/>
  <ellipse cx="369" cy="314" rx="14" ry="18"/>
  <ellipse cx="451" cy="460" rx="14" ry="18"/>
  <ellipse cx="366" cy="609" rx="14" ry="18"/>
  <polygon points="276,459 300,440 300,480"/>
</g>

</svg>

</body></html>
